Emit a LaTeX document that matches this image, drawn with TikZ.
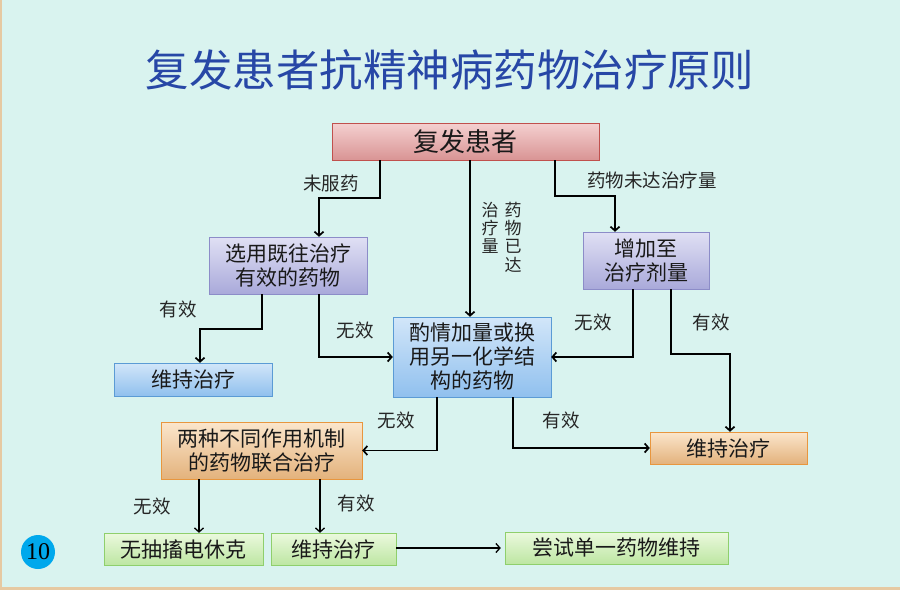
\documentclass[tikz,border=0pt]{standalone}
\usepackage{fontspec}
\usetikzlibrary{arrows.meta}

\newfontfamily\cjk{Noto Sans CJK SC}
\newfontfamily\numfont{Liberation Serif}

\definecolor{bgcol}{HTML}{D9F3EF}
\definecolor{rimcol}{HTML}{E6C9A2}
\definecolor{titleblue}{HTML}{2747A6}
\definecolor{redtop}{HTML}{F4D0D0}
\definecolor{redbot}{HTML}{D99494}
\definecolor{redline}{HTML}{C0504D}
\definecolor{purtop}{HTML}{E0E0F4}
\definecolor{purbot}{HTML}{A9A9DA}
\definecolor{purline}{HTML}{8C8CC8}
\definecolor{blutop}{HTML}{D2E6F9}
\definecolor{blubot}{HTML}{90C0EE}
\definecolor{bluline}{HTML}{5B9BD5}
\definecolor{tantop}{HTML}{FBE6CC}
\definecolor{tanbot}{HTML}{E3B27C}
\definecolor{tanline}{HTML}{E8963E}
\definecolor{grntop}{HTML}{EBF9DE}
\definecolor{grnbot}{HTML}{BDE6A2}
\definecolor{grnline}{HTML}{8FCF6C}
\definecolor{numblue}{HTML}{00A8EC}

\tikzset{
  box/.style={draw, inner sep=0pt, align=center, text=black!90,
    font=\cjk\fontsize{21}{24}\selectfont},
  redbox/.style={box, top color=redtop, bottom color=redbot, draw=redline},
  purbox/.style={box, top color=purtop, bottom color=purbot, draw=purline},
  blubox/.style={box, top color=blutop, bottom color=blubot, draw=bluline},
  tanbox/.style={box, top color=tantop, bottom color=tanbot, draw=tanline},
  grnbox/.style={box, top color=grntop, bottom color=grnbot, draw=grnline},
  lbl/.style={inner sep=0pt, align=center, text=black!85,
    font=\cjk\fontsize{18.5}{18}\selectfont},
  link/.style={draw, line width=1.7pt, ->}
}

\begin{document}
\begin{tikzpicture}[x=1pt,y=-1pt,>={Straight Barb[length=4pt,width=9pt]}]

      \fill[bgcol] (0,0) rectangle (900,590);
      \fill[rimcol] (0,0) rectangle (2,590);
      \fill[rimcol] (0,587) rectangle (900,590);
      \useasboundingbox (0,0) rectangle (900,590);

      \node[inner sep=0pt, text=titleblue, font=\cjk\fontsize{43.5}{46}\selectfont]
        (title) at (450,70) {复发患者抗精神病药物治疗原则};

      \begin{scope}[every node/.style={box}]
        \node[redbox, minimum width=267pt, minimum height=37pt,
          font=\cjk\fontsize{26}{28}\selectfont] (1) at (465.5,141.5) {复发患者};
        \node[purbox, minimum width=158pt, minimum height=57pt] (2) at (288,265.5)  {选用既往治疗\\有效的药物};
        \node[purbox, minimum width=126pt, minimum height=57pt] (3) at (646,260.5)  {增加至\\治疗剂量};
        \node[blubox, minimum width=158pt, minimum height=33pt] (4) at (193,379.5)  {维持治疗};
        \node[blubox, minimum width=158pt, minimum height=80pt] (5) at (472,357)    {酌情加量或换\\用另一化学结\\构的药物};
        \node[tanbox, minimum width=201pt, minimum height=57pt] (6) at (261.5,450.5) {两种不同作用机制\\的药物联合治疗};
        \node[tanbox, minimum width=157pt, minimum height=32pt] (7) at (728.5,448)  {维持治疗};
        \node[grnbox, minimum width=159pt, minimum height=32pt] (8) at (183.5,549)  {无抽搐电休克};
        \node[grnbox, minimum width=125pt, minimum height=32pt] (9) at (333.5,549)  {维持治疗};
        \node[grnbox, minimum width=223pt, minimum height=32pt] (10) at (616.5,548) {尝试单一药物维持};
      \end{scope}

      \node[circle, fill=numblue, inner sep=0pt, minimum size=34pt,
        font=\numfont\fontsize{24}{24}\selectfont] (num) at (38,552) {10};

      \begin{scope}[every node/.style={lbl}]
        \node (a1)  at (331,183) {未服药};
        \node (a2)  at (652,180) {药物未达治疗量};
        \node (a3)  at (178,309) {有效};
        \node (a4)  at (355,330) {无效};
        \node (a5)  at (593,322) {无效};
        \node (a6)  at (711,322) {有效};
        \node (a7)  at (396,420) {无效};
        \node (a8)  at (561,420) {有效};
        \node (a9)  at (152,506) {无效};
        \node (a10) at (356,503) {有效};
        \node[font=\cjk\fontsize{17}{18.3}\selectfont] (v1) at (513,237) {药\\物\\已\\达};
        \node[font=\cjk\fontsize{17}{18.3}\selectfont] (v2) at (490,228) {治\\疗\\量};
      \end{scope}

      \begin{scope}[every path/.style={link}]
        \path (1.south -| 380,0) -- (380,198) -| (2.north -| 319,0);
        \path (1.south -| 470,0) -- (5.north -| 470,0);
        \path (1.south -| 555,0) -- (555,196) -| (3.north -| 615,0);
        \path (2.south -| 262,0) -- (262,329) -| (4.north -| 200,0);
        \path (2.south -| 319,0) |- (5.west);
        \path (3.south -| 633,0) |- (5.east);
        \path (3.south -| 671,0) -- (671,354) -| (7.north -| 730,0);
        \path (5.south -| 437,0) |- (6.east);
        \path (5.south -| 513,0) |- (7.west);
      \end{scope}

      \begin{scope}[every path/.style={link, line width=1.3pt}]
        \path (6.south -| 199,0) -- (8.north -| 199,0);
        \path (6.south -| 320,0) -- (9.north -| 320,0);
        \path[shorten >=4pt] (9.east |- 10.west) -- (10.west);
      \end{scope}

    \end{tikzpicture}
\end{document}
